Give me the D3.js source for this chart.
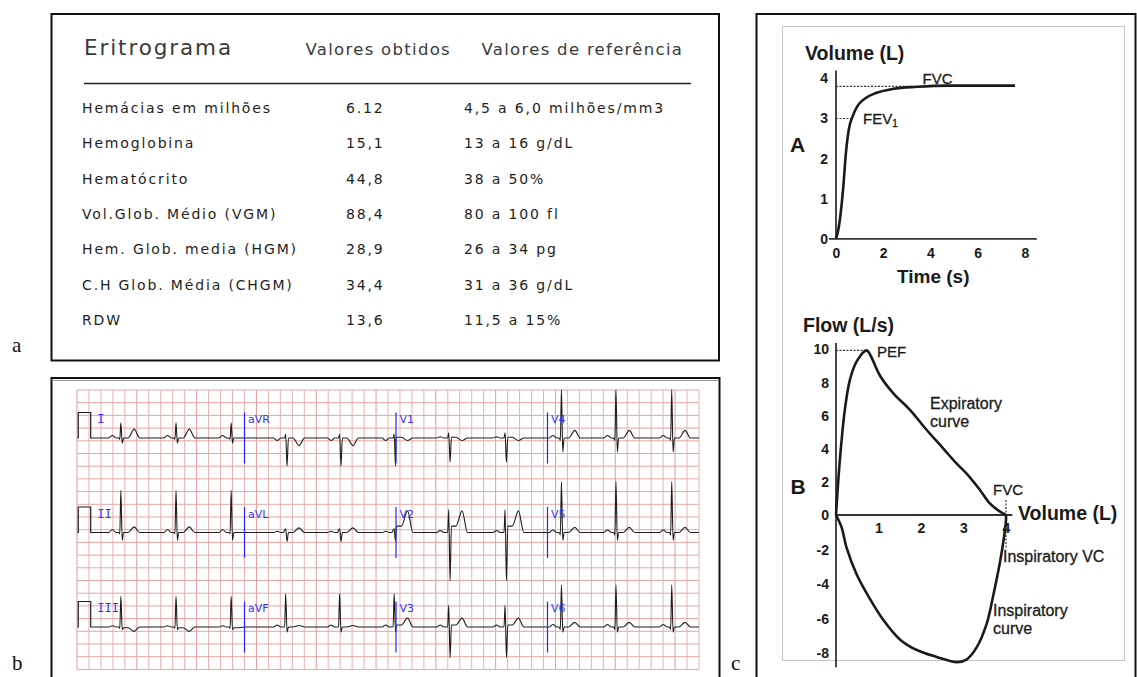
<!DOCTYPE html>
<html>
<head>
<meta charset="utf-8">
<script src="https://cdn.jsdelivr.net/npm/d3@7"></script>
<style>
  body { margin: 0; background: #fff; }
  svg { display: block; }
  .tbl { font-family: "DejaVu Sans", Verdana, sans-serif; fill: #1e1e1e; white-space: pre; }
  .sp { font-family: "Liberation Sans", Arial, sans-serif; fill: #1a1a1a; }
  .sp .tick text { font-family: "Liberation Sans", Arial, sans-serif; font-weight: bold; font-size: 14px; fill: #1a1a1a; }
</style>
</head>
<body>
<svg width="1137" height="677"></svg>
<script>
// ---- a : eritrograma
var tableHeader = ["Eritrograma", "Valores obtidos", "Valores de referência"];
var examNames = ["Hemácias em milhões", "Hemoglobina", "Hematócrito", "Vol.Glob. Médio (VGM)",
                 "Hem. Glob. media (HGM)", "C.H Glob. Média (CHGM)", "RDW"];
var examValues = ["6.12", "15,1", "44,8", "88,4", "28,9", "34,4", "13,6"];
var examRefs = ["4,5 a 6,0 milhões/mm3", " 13 a 16 g/dL", " 38 a 50%", " 80 a 100 fl",
                " 26 a 34 pg", " 31 a 36 g/dL", " 11,5 a 15%"];

// ---- b : ECG (12 leads, 3 rows x 4 columns)
var ecgLeads = ["I", "aVR", "V1", "V4", "II", "aVL", "V2", "V5", "III", "aVF", "V3", "V6"];
var beatTimes = [0.46, 1.37, 2.28, 3.18, 4.07, 4.97, 5.87, 6.80, 7.73, 8.63, 9.55]; // R peaks, s
// wave amplitudes in mV, same order as ecgLeads
var pAmp  = [0.10, -0.10, 0.05, 0.10, 0.12, 0.05, 0.08, 0.10, 0.05, 0.08, 0.08, 0.10];
var qAmp  = [-0.05, 0.00, 0.00, -0.10, -0.05, 0.10, 0.00, -0.10, -0.05, 0.00, 0.00, -0.10];
var rAmp  = [0.60, 0.15, 0.20, 1.90, 1.65, 0.15, 0.90, 2.00, 1.20, 1.30, 0.85, 1.65];
var sAmp  = [-0.20, -1.10, -0.95, -0.55, -0.30, -0.35, -1.90, -0.30, -0.10, -0.20, -1.20, -0.20];
var stAmp = [0.00, 0.00, 0.03, 0.00, 0.00, 0.00, 0.25, 0.00, -0.03, 0.00, 0.08, 0.00];
var tAmp  = [0.35, -0.30, -0.10, 0.30, 0.22, 0.18, 0.85, 0.20, -0.17, 0.06, 0.35, 0.18];
var beatShapeT = [-0.20, -0.14, -0.08, -0.035, -0.018, 0, 0.022, 0.045, 0.12, 0.22, 0.31];
var calPulse = [[-0.26, 0], [-0.243, 0], [-0.243, 1], [-0.038, 1], [-0.038, 0], [0, 0]];

// ---- c : spirometry
var volTime = [0, 0.1, 0.2, 0.31, 0.42, 0.54, 0.71, 0.9, 1.23, 1.72, 2.43, 3.42, 4.83, 7.58];
var volValue = [0, 0.23, 0.65, 1.31, 2.14, 2.72, 3.06, 3.3, 3.5, 3.64, 3.74, 3.79, 3.82, 3.82];
var expVol  = [0, 0.09, 0.21, 0.33, 0.49, 0.72, 0.8, 1.04, 1.35, 1.74, 2.13, 2.53, 2.84, 3.11, 3.39, 3.62, 3.86, 4.0];
var expFlow = [0, 3.3, 6.4, 8.2, 9.3, 9.95, 9.7, 8.4, 7.35, 6.35, 5.15, 4.0, 3.1, 2.4, 1.5, 0.7, 0.2, 0];
var inspVol  = [0, 0.13, 0.25, 0.49, 0.8, 1.11, 1.51, 1.9, 2.37, 2.84, 3.07, 3.31, 3.55, 3.7, 3.86, 3.94, 4.0, 4.0];
var inspFlow = [0, -0.7, -1.9, -3.45, -4.85, -6.05, -7.2, -7.8, -8.2, -8.5, -8.35, -7.65, -6.25, -4.65, -2.7, -1.5, -0.3, 0];
var volTicks = [0, 1, 2, 3, 4];
var timeTicks = [0, 2, 4, 6, 8];
var flowTicks = [-8, -6, -4, -2, 0, 2, 4, 6, 8, 10];
var loopVolTicks = [1, 2, 3, 4];
var FVC = 3.8, FEV1 = 3.0, PEF = 9.95;

var svg = d3.select("svg");
var plain = d => String(d); // hyphen minus, as in the figure

// frames
svg.append("rect").attr("x", 51.5).attr("y", 14).attr("width", 667.5).attr("height", 346.5)
   .attr("fill", "none").attr("stroke", "#111").attr("stroke-width", 2);
svg.append("rect").attr("x", 51.5).attr("y", 378).attr("width", 668).attr("height", 320)
   .attr("fill", "none").attr("stroke", "#111").attr("stroke-width", 2);
svg.append("line").attr("x1", 53).attr("x2", 718).attr("y1", 380.5).attr("y2", 380.5)
   .attr("stroke", "#999").attr("stroke-width", 1);
svg.append("rect").attr("x", 756.5).attr("y", 14).attr("width", 379).attr("height", 690)
   .attr("fill", "none").attr("stroke", "#111").attr("stroke-width", 2);
svg.append("rect").attr("x", 782.5).attr("y", 26.5).attr("width", 342).attr("height", 634)
   .attr("fill", "none").attr("stroke", "#c4c4c4").attr("stroke-width", 1);

var panelLetters = [["a", 12, 352], ["b", 12, 670], ["c", 731, 670]];
svg.selectAll("text.plab").data(panelLetters).enter().append("text")
   .attr("class", "plab").attr("x", d => d[1]).attr("y", d => d[2])
   .attr("font-family", "Liberation Serif, Times New Roman, serif").attr("font-size", 21)
   .attr("fill", "#111").text(d => d[0]);

// ================= a : table =================
var ta = svg.append("g").attr("class", "tbl");
var headX = [84, 305.5, 481.5];
ta.selectAll("text.head").data(tableHeader).enter().append("text")
  .attr("class", "head")
  .attr("x", (d, i) => headX[i]).attr("y", 55)
  .attr("font-size", (d, i) => i === 0 ? 21.5 : 16.5)
  .attr("letter-spacing", (d, i) => i === 0 ? 1.9 : 1.3)
  .attr("fill", "#3a3a3a")
  .text(d => d);
ta.append("line").attr("x1", 84).attr("x2", 691).attr("y1", 83.5).attr("y2", 83.5)
  .attr("stroke", "#222").attr("stroke-width", 1.5);

var rowY = d3.scaleBand().domain(d3.range(examNames.length)).range([90.5, 337.6]);
var rows = ta.selectAll("g.row").data(examNames).enter().append("g")
  .attr("class", "row")
  .attr("transform", (d, i) => "translate(0," + (rowY(i) + rowY.bandwidth() / 2 + 5) + ")");
rows.append("text").attr("x", 82).attr("font-size", 14).attr("letter-spacing", 1.85).text(d => d);
rows.append("text").attr("x", 346).attr("font-size", 14).attr("letter-spacing", 1.85)
    .text((d, i) => examValues[i]);
rows.append("text").attr("x", 464).attr("font-size", 14).attr("letter-spacing", 1.85)
    .text((d, i) => examRefs[i]);

// ================= b : ECG =================
var eg = svg.append("g");
var gridCol = d3.scaleLinear().domain([0, 52]).range([77, 699]);
var gridRow = d3.scaleLinear().domain([0, 22]).range([390, 669.4]);
eg.selectAll("line.gv").data(d3.range(53)).enter().append("line")
  .attr("x1", d => gridCol(d)).attr("x2", d => gridCol(d))
  .attr("y1", gridRow(0)).attr("y2", gridRow(22))
  .attr("stroke", d => d % 5 === 0 ? "#e09a9a" : "#eab0b0").attr("stroke-width", 1);
eg.selectAll("line.gh").data(d3.range(23)).enter().append("line")
  .attr("x1", gridCol(0)).attr("x2", gridCol(52))
  .attr("y1", d => gridRow(d)).attr("y2", d => gridRow(d))
  .attr("stroke", "#e5a5a5").attr("stroke-width", 1);

var ecgX = d3.scaleLinear().domain([0, 10]).range([93, 699]);
var baseY = d3.scaleLinear().domain([0, 2]).range([438, 627]);
var mv = d3.scaleLinear().domain([0, 1]).range([0, -25.5]);
var ecgLine = d3.line().x(d => ecgX(d[0])).y(d => d[1]).curve(d3.curveMonotoneX);
var pulseLine = d3.line().x(d => ecgX(d[0])).y(d => d[1]);

ecgLeads.forEach(function (name, i) {
  var r = Math.floor(i / 4), c = i % 4;
  var t0 = c * 2.5, t1 = t0 + 2.5;
  var y0 = baseY(r);
  var shapeV = [0, pAmp[i], 0, 0, qAmp[i], rAmp[i], sAmp[i], stAmp[i], stAmp[i], tAmp[i], 0];
  var pts = [[t0, y0]];
  beatTimes.forEach(function (b) {
    beatShapeT.forEach(function (dt, k) {
      var t = b + dt;
      if (t > t0 + 0.005 && t < t1 - 0.005) pts.push([t, y0 + mv(shapeV[k])]);
    });
  });
  pts.push([t1, y0]);
  eg.append("path").attr("d", ecgLine(pts))
    .attr("fill", "none").attr("stroke", "#1e1e1e").attr("stroke-width", 1.1);

  if (c === 0) {
    eg.append("path").attr("d", pulseLine(calPulse.map(p => [p[0], y0 + mv(p[1])])))
      .attr("fill", "none").attr("stroke", "#1e1e1e").attr("stroke-width", 1.2);
  } else {
    eg.append("line").attr("x1", ecgX(t0)).attr("x2", ecgX(t0))
      .attr("y1", y0 + mv(1)).attr("y2", y0 + mv(-1))
      .attr("stroke", "#2323ff").attr("stroke-width", 1.2);
  }
  eg.append("text")
    .attr("x", c === 0 ? ecgX(0.07) : ecgX(t0) + 3.5)
    .attr("y", y0 - 15)
    .attr("font-family", c === 0 ? "DejaVu Sans Mono, monospace" : "DejaVu Sans, sans-serif")
    .attr("font-size", c === 0 ? 12 : 11)
    .attr("fill", "#3535ff")
    .text(name);
});

// ================= c : spirometry =================
var sp = svg.append("g").attr("class", "sp");

// --- A : volume-time
var ax = d3.scaleLinear().domain([0, 8]).range([836, 1025]);
var ay = d3.scaleLinear().domain([0, 4]).range([238.8, 78.4]);
var gA = sp.append("g");
gA.append("g").attr("transform", "translate(" + ax(0) + ",0)")
  .call(d3.axisLeft(ay).tickValues(volTicks).tickSize(0).tickPadding(8).tickFormat(plain))
  .call(g => g.select(".domain").remove());
gA.append("g").attr("transform", "translate(0," + ay(0) + ")")
  .call(d3.axisBottom(ax).tickValues(timeTicks).tickSize(0).tickPadding(9).tickFormat(plain))
  .call(g => g.select(".domain").remove());
gA.append("line").attr("x1", ax(0)).attr("x2", ax(0)).attr("y1", ay(4.2)).attr("y2", ay(0))
  .attr("stroke", "#333").attr("stroke-width", 1.8);
gA.append("line").attr("x1", ax(0) - 7).attr("x2", ax(8.5)).attr("y1", ay(0)).attr("y2", ay(0))
  .attr("stroke", "#333").attr("stroke-width", 1.8);
gA.append("line").attr("x1", ax(0)).attr("x2", ax(3.3)).attr("y1", ay(FVC)).attr("y2", ay(FVC))
  .attr("stroke", "#333").attr("stroke-width", 1.2).attr("stroke-dasharray", "2,1.5");
gA.append("line").attr("x1", ax(0)).attr("x2", ax(0.73)).attr("y1", ay(FEV1)).attr("y2", ay(FEV1))
  .attr("stroke", "#333").attr("stroke-width", 1.2).attr("stroke-dasharray", "2,1.5");
gA.append("path")
  .attr("d", d3.line().x((d, i) => ax(volTime[i])).y(d => ay(d)).curve(d3.curveMonotoneX)(volValue))
  .attr("fill", "none").attr("stroke", "#1a1a1a").attr("stroke-width", 2.6);
gA.append("text").attr("x", 805).attr("y", 60).attr("font-size", 19.5).attr("font-weight", "bold").text("Volume (L)");
gA.append("text").attr("x", 790).attr("y", 152).attr("font-size", 21).attr("font-weight", "bold").text("A");
gA.append("text").attr("x", 897).attr("y", 283).attr("font-size", 19).attr("font-weight", "bold").text("Time (s)");
gA.append("text").attr("x", 922.5).attr("y", 83.5).attr("font-size", 15).attr("stroke", "#1a1a1a")
  .attr("stroke-width", 0.3).text("FVC");
var fev = gA.append("text").attr("x", 863).attr("y", 124).attr("font-size", 15).attr("stroke", "#1a1a1a")
  .attr("stroke-width", 0.3).text("FEV");
fev.append("tspan").attr("font-size", 10).attr("dy", 3).text("1");

// --- B : flow-volume loop
var bx = d3.scaleLinear().domain([0, 4]).range([836, 1006]);
var by = d3.scaleLinear().domain([-8, 0, 10]).range([653.5, 515, 349.5]);
var gB = sp.append("g");
gB.append("g").attr("transform", "translate(" + bx(0) + ",0)")
  .call(d3.axisLeft(by).tickValues(flowTicks).tickSize(0).tickPadding(7).tickFormat(plain))
  .call(g => g.select(".domain").remove());
gB.append("g").attr("transform", "translate(0," + by(0) + ")")
  .call(d3.axisBottom(bx).tickValues(loopVolTicks).tickSize(0).tickPadding(8).tickFormat(plain))
  .call(g => g.select(".domain").remove());
gB.append("line").attr("x1", bx(0)).attr("x2", bx(0)).attr("y1", by(10.4)).attr("y2", by(-8.8))
  .attr("stroke", "#333").attr("stroke-width", 1.8);
gB.append("line").attr("x1", bx(0)).attr("x2", bx(4.15)).attr("y1", by(0)).attr("y2", by(0))
  .attr("stroke", "#333").attr("stroke-width", 1.8);
gB.append("line").attr("x1", bx(0)).attr("x2", bx(0.72)).attr("y1", by(PEF)).attr("y2", by(PEF))
  .attr("stroke", "#333").attr("stroke-width", 1.2).attr("stroke-dasharray", "2,1.5");
gB.append("line").attr("x1", bx(4)).attr("x2", bx(4)).attr("y1", by(0.9)).attr("y2", by(-1.9))
  .attr("stroke", "#333").attr("stroke-width", 1.2).attr("stroke-dasharray", "2,1.5");
var loopLine = d3.line().x(d => bx(d[0])).y(d => by(d[1])).curve(d3.curveCatmullRom.alpha(0.5));
gB.append("path").attr("d", loopLine(expVol.map((v, i) => [v, expFlow[i]])))
  .attr("fill", "none").attr("stroke", "#1a1a1a").attr("stroke-width", 2.6);
gB.append("path").attr("d", loopLine(inspVol.map((v, i) => [v, inspFlow[i]])))
  .attr("fill", "none").attr("stroke", "#1a1a1a").attr("stroke-width", 2.6);
gB.append("text").attr("x", 803).attr("y", 332).attr("font-size", 19.5).attr("font-weight", "bold").text("Flow (L/s)");
gB.append("text").attr("x", 790.5).attr("y", 494).attr("font-size", 21).attr("font-weight", "bold").text("B");
gB.append("text").attr("x", 1018).attr("y", 520).attr("font-size", 19.5).attr("font-weight", "bold").text("Volume (L)");
var notes = [["PEF", 877, 357], ["Expiratory", 930, 409], ["curve", 930, 427], ["FVC", 993, 495],
             ["Inspiratory VC", 1003, 562], ["Inspiratory", 993, 616], ["curve", 993, 634]];
gB.selectAll("text.note").data(notes).enter().append("text")
  .attr("class", "note").attr("x", d => d[1]).attr("y", d => d[2])
  .attr("font-size", d => d[0] === "PEF" || d[0] === "FVC" ? 15 : 16)
  .attr("stroke", "#1a1a1a").attr("stroke-width", 0.3)
  .text(d => d[0]);
</script>
</body>
</html>
